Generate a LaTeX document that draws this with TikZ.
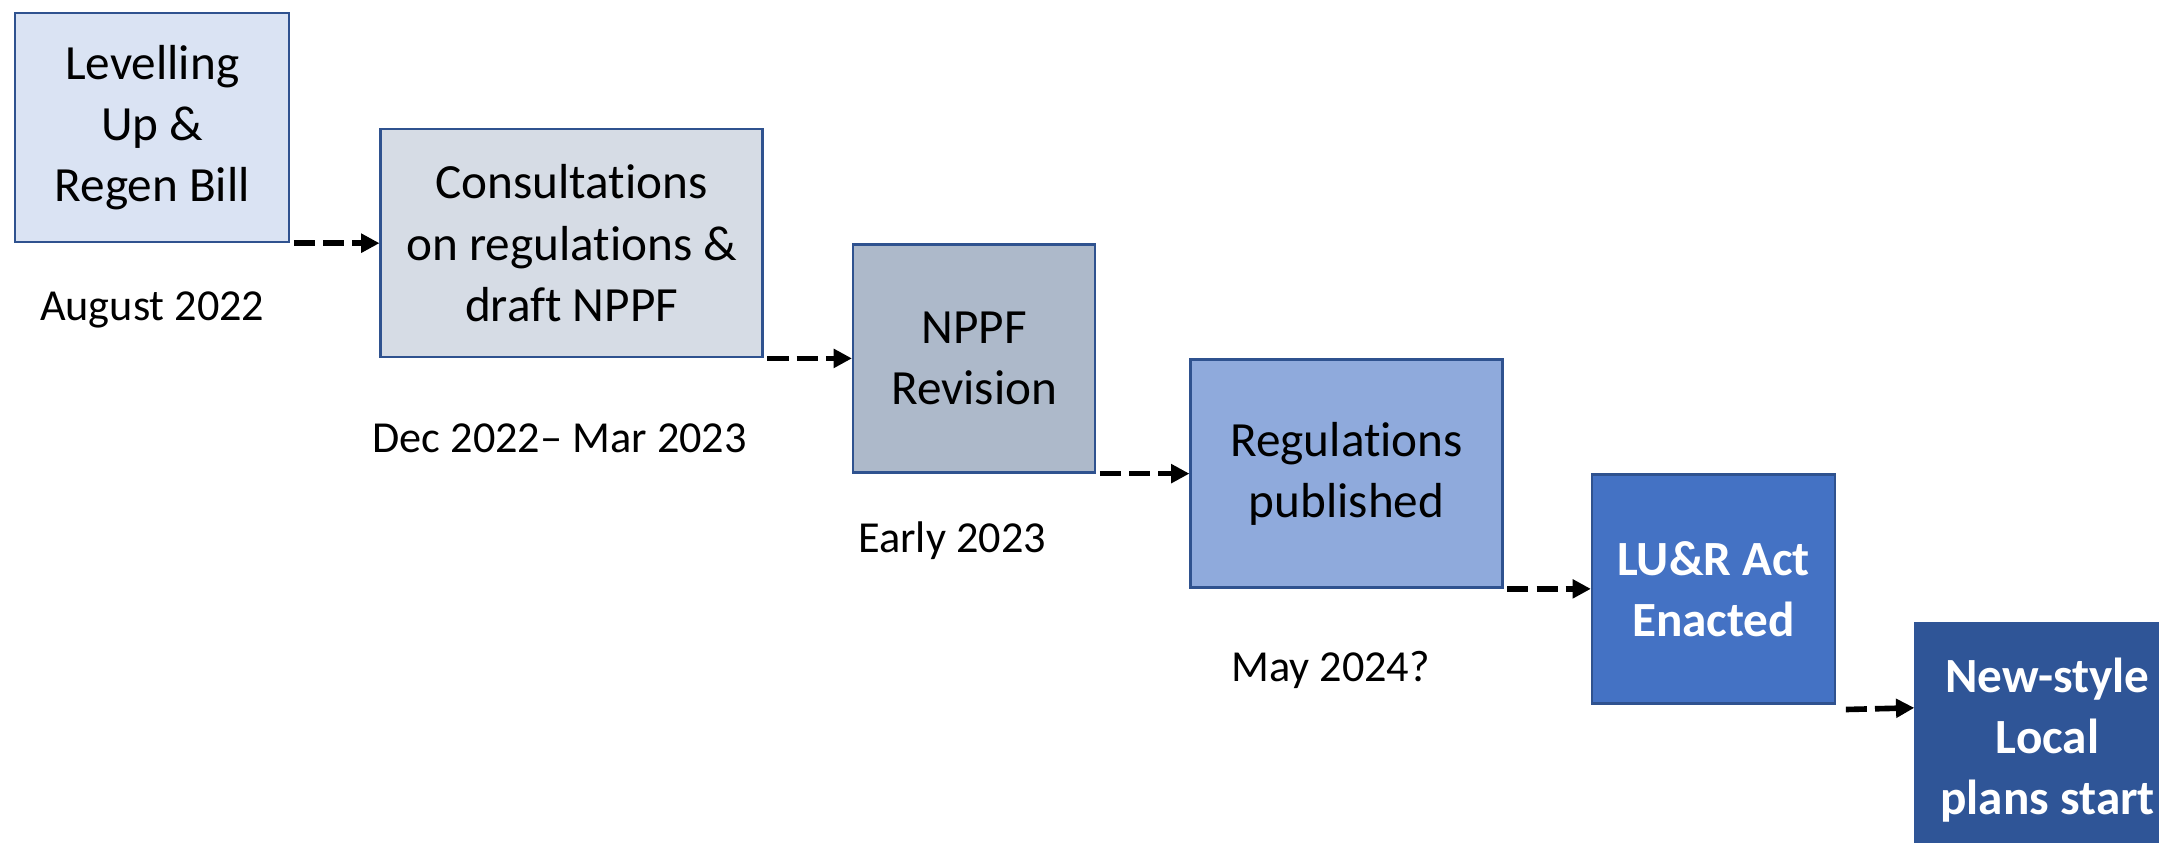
\documentclass[tikz,border=0pt]{standalone}
\usepackage{fontspec}
\setmainfont{Carlito}[Ligatures={TeX,NoCommon}]
\usetikzlibrary{positioning,arrows.meta}

\begin{document}
\begin{tikzpicture}[
        node distance=9mm,
        stage/.style={draw=edgeblue,line width=0.7pt,inner sep=0pt,align=center,
            minimum height=22.8mm,font=\fontsize{14}{17.4}\selectfont},
        boldstage/.style={stage,text=white,font=\fontsize{14}{17.4}\selectfont\bfseries},
        when/.style={anchor=base,font=\fontsize{12.6}{15}\selectfont},
        flow/.style={line width=1.6pt,dash pattern=on 6pt off 2.3pt,
            -{Triangle[length=5.2pt,width=5.2pt]},shorten <=1pt}
    ]
        \definecolor{edgeblue}{HTML}{2F528F}
        \definecolor{stA}{HTML}{DAE3F3}
        \definecolor{stB}{HTML}{D6DCE5}
        \definecolor{stC}{HTML}{ADB9CA}
        \definecolor{stD}{HTML}{8FAADC}
        \definecolor{stE}{HTML}{4472C4}
        \definecolor{stF}{HTML}{2F5597}

        \clip (0,0) rectangle (21.59,-8.42);

        \node (lev)   [stage,fill=stA,minimum width=27.4mm,minimum height=22.9mm,anchor=north west] at (0.14,-0.117)
                      {Levelling\\Up \&\\Regen Bill};
        \node (cons)  [stage,fill=stB,minimum width=38.2mm,right=8.9mm of lev.south east]
                      {Consultations\\on regulations \&\\draft NPPF};
        \node (nppf)  [stage,fill=stC,minimum width=24.2mm,right=8.8mm of cons.south east]
                      {NPPF\\Revision};
        \node (regs)  [stage,fill=stD,minimum width=31.2mm,right=9.3mm of nppf.south east]
                      {Regulations\\published};
        \node (act)   [boldstage,fill=stE,minimum width=24.3mm,minimum height=22.9mm,right=8.7mm of regs.south east]
                      {LU\&R Act\\Enacted};
        \node (plans) [boldstage,fill=stF,draw=stF,minimum width=26.4mm,minimum height=23.4mm,
                       right=7.8mm of act.south east,anchor=north west,yshift=8.3mm]
                      {New-style\\Local\\plans start};

        \node (t1) [when] at ([yshift=-7.7mm]lev.south)                 {August 2022};
        \node (t2) [when] at ([xshift=-1.2mm,yshift=-9.4mm]cons.south)  {Dec 2022\textendash{} Mar 2023};
        \node (t3) [when] at ([xshift=-2.2mm,yshift=-7.9mm]nppf.south)  {Early 2023};
        \node (t4) [when] at ([xshift=-1.6mm,yshift=-9.3mm]regs.south)  {May 2024?};

        \draw [flow] (lev.south east)  -- (cons.west);
        \draw [flow] (cons.south east) -- (nppf.west);
        \draw [flow] (nppf.south east) -- (regs.west);
        \draw [flow] (regs.south east) -- (act.west);
        \draw [flow] ([xshift=0.6mm,yshift=-0.5mm]act.south east) -- ([yshift=3.2mm]plans.west);
\end{tikzpicture}
\end{document}
